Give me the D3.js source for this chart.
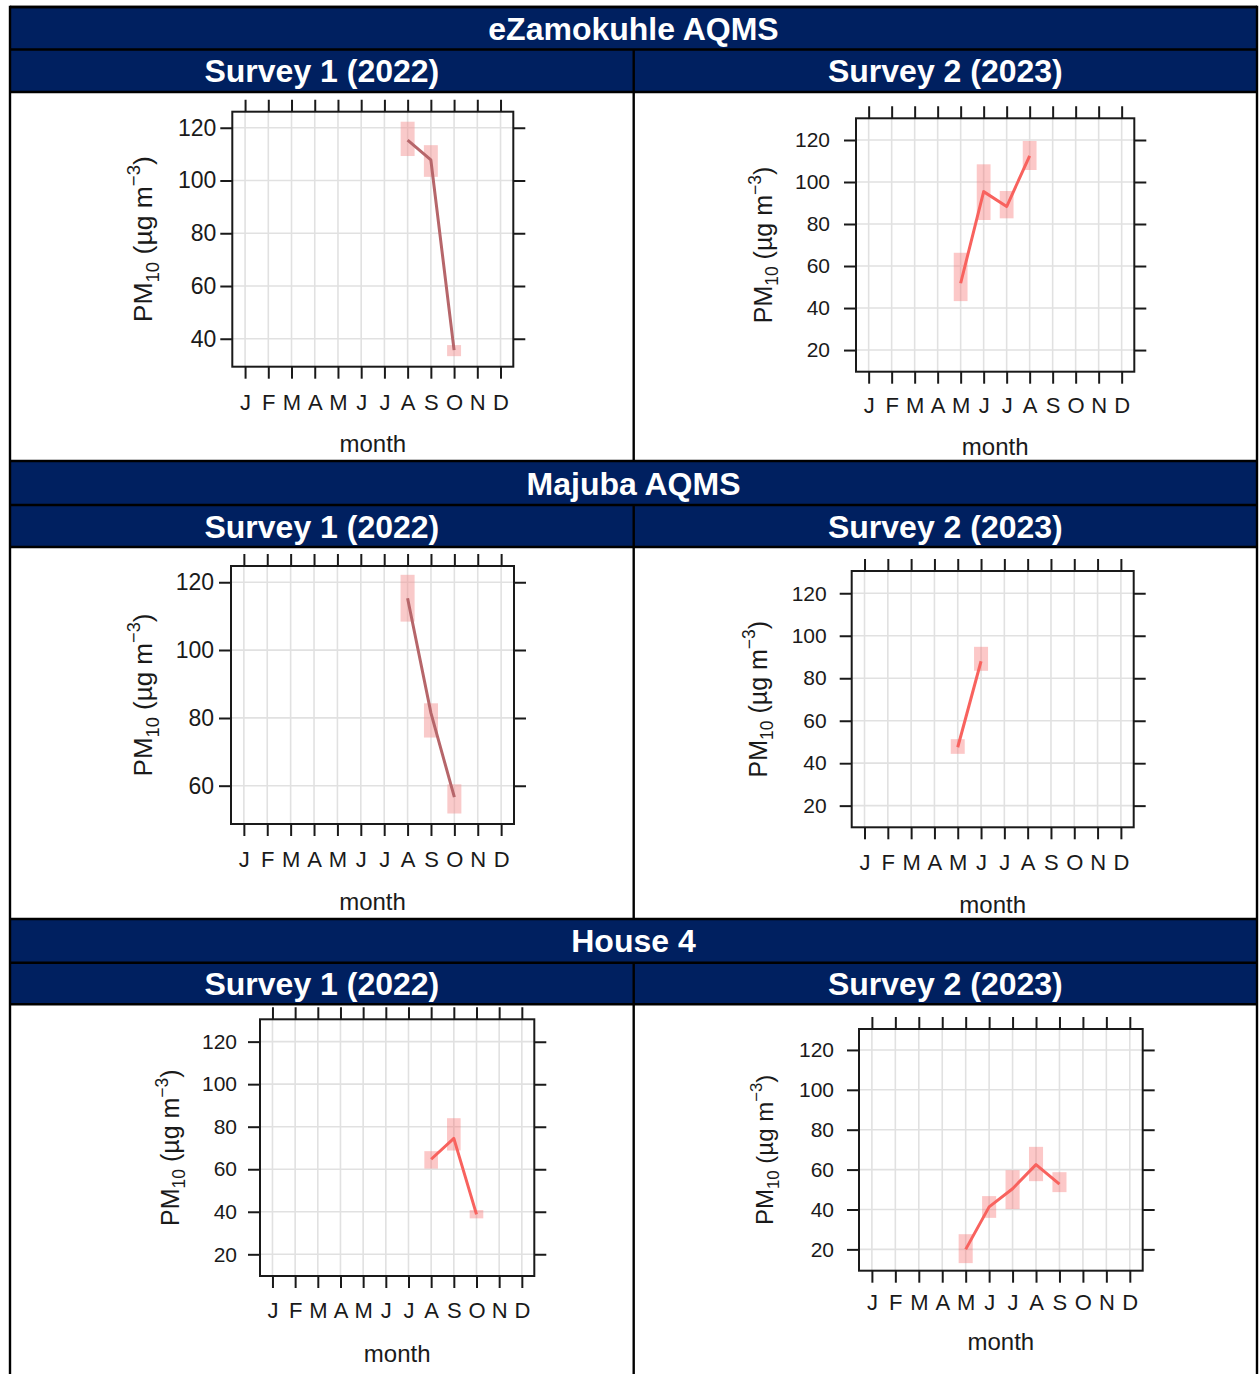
<!DOCTYPE html>
<html>
<head>
<meta charset="utf-8">
<script src="https://cdn.jsdelivr.net/npm/d3@7"></script>
<style>
  body { margin: 0; background: #fff; }
  svg { display: block; font-family: "Liberation Sans", Arial, sans-serif; }
</style>
</head>
<body>
<svg id="chart" width="1259" height="1374"></svg>
<script>
// ---- labels ----
const monthLabels = ["J", "F", "M", "A", "M", "J", "J", "A", "S", "O", "N", "D"];
const stationNames = ["eZamokuhle AQMS", "Majuba AQMS", "House 4"];
const surveyNames = ["Survey 1 (2022)", "Survey 2 (2023)"];

// ---- monthly mean PM10 (µg/m³) with 95% confidence limits ----
// eZamokuhle AQMS, survey 1 (2022)
const ezS1Month = [8, 9, 10];
const ezS1Mean  = [115.3, 107.8, 35.7];
const ezS1Lower = [109.3, 101.4, 33.4];
const ezS1Upper = [122.3, 113.4, 37.6];
const ezS1Ticks = [40, 60, 80, 100, 120];

// eZamokuhle AQMS, survey 2 (2023)
const ezS2Month = [5, 6, 7, 8];
const ezS2Mean  = [51.8, 95.4, 88.3, 112.4];
const ezS2Lower = [43.3, 81.9, 82.7, 105.7];
const ezS2Upper = [66.3, 108.4, 95.7, 119.5];
const ezS2Ticks = [20, 40, 60, 80, 100, 120];

// Majuba AQMS, survey 1 (2022)
const mjS1Month = [8, 9, 10];
const mjS1Mean  = [115.3, 81.4, 56.6];
const mjS1Lower = [108.4, 74.2, 51.8];
const mjS1Upper = [122.2, 84.3, 60.4];
const mjS1Ticks = [60, 80, 100, 120];

// Majuba AQMS, survey 2 (2023)
const mjS2Month = [5, 6];
const mjS2Mean  = [47.5, 88.0];
const mjS2Lower = [44.4, 83.5];
const mjS2Upper = [51.3, 94.8];
const mjS2Ticks = [20, 40, 60, 80, 100, 120];

// House 4, survey 1 (2022)
const h4S1Month = [8, 9, 10];
const h4S1Mean  = [64.7, 74.5, 38.8];
const h4S1Lower = [60.3, 68.8, 36.9];
const h4S1Upper = [68.5, 84.0, 40.8];
const h4S1Ticks = [20, 40, 60, 80, 100, 120];

// House 4, survey 2 (2023)
const h4S2Month = [5, 6, 7, 8, 9];
const h4S2Mean  = [20.0, 41.3, 50.4, 62.5, 52.7];
const h4S2Lower = [13.1, 35.8, 40.2, 54.2, 48.7];
const h4S2Upper = [27.6, 46.7, 59.7, 71.4, 58.7];
const h4S2Ticks = [20, 40, 60, 80, 100, 120];

// y ranges of each plot
const ezS1Range = [29.4, 126.1];
const ezS2Range = [9.7, 130.3];
const mjS1Range = [48.7, 124.8];
const mjS2Range = [9.8, 130.5];
const h4S1Range = [9.8, 130.5];
const h4S2Range = [9.3, 130.5];

const series = [
  { month: ezS1Month, mean: ezS1Mean, lower: ezS1Lower, upper: ezS1Upper, ticks: ezS1Ticks, range: ezS1Range },
  { month: ezS2Month, mean: ezS2Mean, lower: ezS2Lower, upper: ezS2Upper, ticks: ezS2Ticks, range: ezS2Range },
  { month: mjS1Month, mean: mjS1Mean, lower: mjS1Lower, upper: mjS1Upper, ticks: mjS1Ticks, range: mjS1Range },
  { month: mjS2Month, mean: mjS2Mean, lower: mjS2Lower, upper: mjS2Upper, ticks: mjS2Ticks, range: mjS2Range },
  { month: h4S1Month, mean: h4S1Mean, lower: h4S1Lower, upper: h4S1Upper, ticks: h4S1Ticks, range: h4S1Range },
  { month: h4S2Month, mean: h4S2Mean, lower: h4S2Lower, upper: h4S2Upper, ticks: h4S2Ticks, range: h4S2Range }
];

// ---- page layout ----
const navy = "#002060";
const colLeft = 10, colMid = 633.7, colRight = 1257;
// header rows [top, bottom] and cell rows [top, bottom] for each station block
const blocks = [
  { title: [7, 49.5],    survey: [49.5, 92],    cell: [92, 461] },
  { title: [461, 505],   survey: [505, 547],    cell: [547, 919] },
  { title: [919, 962.7], survey: [962.7, 1004.3], cell: [1004.3, 1380] }
];

// plot frames: left, right, top, bottom and text placement
const frames = [
  { L: 232.3, R: 513.3,  T: 111.7, B: 366.7,  xlab: 43,   mon: 85, ylab: 80, tickGap: 4,  yFont: 23, yl: 26.5, line: "#b6666a", box: "rgba(244,150,150,0.5)" },
  { L: 856,   R: 1134.3, T: 118.3, B: 371.7,  xlab: 41.6, mon: 83, ylab: 84, tickGap: 14, yFont: 21, yl: 25, line: "#f8625e", box: "rgba(248,110,110,0.38)" },
  { L: 231,   R: 514,    T: 566,   B: 824,    xlab: 43,   mon: 86, ylab: 79, tickGap: 5,  yFont: 23, yl: 26, line: "#b6666a", box: "rgba(244,150,150,0.5)" },
  { L: 851.7, R: 1133.7, T: 571,   B: 827.3,  xlab: 43,   mon: 86, ylab: 85, tickGap: 13, yFont: 21, yl: 25, line: "#f8625e", box: "rgba(248,110,110,0.38)" },
  { L: 260,   R: 534.3,  T: 1019.3, B: 1276,  xlab: 42,   mon: 86, ylab: 81, tickGap: 11, yFont: 21, yl: 25, line: "#f8625e", box: "rgba(248,110,110,0.38)" },
  { L: 859,   R: 1142.7, T: 1029,  B: 1270.7, xlab: 39,   mon: 79, ylab: 86, tickGap: 13, yFont: 21, yl: 24, line: "#f8625e", box: "rgba(248,110,110,0.38)" }
];

const svg = d3.select("#chart");
const defs = svg.append("defs");
const headFont = 32;

// ---- header bands ----
blocks.forEach((b, bi) => {
  svg.append("rect").attr("x", colLeft).attr("y", b.title[0])
    .attr("width", colRight - colLeft).attr("height", b.survey[1] - b.title[0]).attr("fill", navy);
  svg.append("text").attr("x", (colLeft + colRight) / 2).attr("y", (b.title[0] + b.title[1]) / 2 + 11.5)
    .attr("text-anchor", "middle").attr("fill", "#fff").attr("font-weight", "bold").attr("font-size", headFont)
    .text(stationNames[bi]);
  [[colLeft, colMid], [colMid, colRight]].forEach(([a, c], si) => {
    svg.append("text").attr("x", (a + c) / 2).attr("y", (b.survey[0] + b.survey[1]) / 2 + 11.5)
      .attr("text-anchor", "middle").attr("fill", "#fff").attr("font-weight", "bold").attr("font-size", headFont)
      .text(surveyNames[si]);
  });
});

// ---- plots ----
series.forEach((s, i) => {
  const f = frames[i];
  const b = blocks[Math.floor(i / 2)];
  const cx0 = i % 2 === 0 ? colLeft : colMid;
  const cx1 = i % 2 === 0 ? colMid : colRight;

  defs.append("clipPath").attr("id", "cell" + i).append("rect")
    .attr("x", cx0).attr("y", b.cell[0]).attr("width", cx1 - cx0).attr("height", b.cell[1] - b.cell[0]);

  const g = svg.append("g").attr("clip-path", `url(#cell${i})`);

  const x = d3.scaleLinear().domain([0.45, 12.55]).range([f.L, f.R]);
  const y = d3.scaleLinear().domain(s.range).range([f.B, f.T]);
  const months = d3.range(1, 13);

  // grid
  g.append("g").selectAll("line").data(months).join("line")
    .attr("x1", d => x(d)).attr("x2", d => x(d)).attr("y1", f.T).attr("y2", f.B)
    .attr("stroke", "#e1e1e1").attr("stroke-width", 1.6);
  g.append("g").selectAll("line").data(s.ticks).join("line")
    .attr("x1", f.L).attr("x2", f.R).attr("y1", d => y(d)).attr("y2", d => y(d))
    .attr("stroke", "#e1e1e1").attr("stroke-width", 1.6);

  // confidence interval boxes
  const idx = d3.range(s.month.length);
  g.append("g").selectAll("rect").data(idx).join("rect")
    .attr("x", d => x(s.month[d] - 0.3))
    .attr("width", d => x(s.month[d] + 0.3) - x(s.month[d] - 0.3))
    .attr("y", d => y(s.upper[d]))
    .attr("height", d => y(s.lower[d]) - y(s.upper[d]))
    .attr("fill", f.box);

  // monthly mean line
  const line = d3.line().x(d => x(s.month[d])).y(d => y(s.mean[d]));
  g.append("path").datum(idx).attr("d", line)
    .attr("fill", "none").attr("stroke", f.line).attr("stroke-width", 3).attr("stroke-linejoin", "round");

  // frame
  g.append("rect").attr("x", f.L).attr("y", f.T).attr("width", f.R - f.L).attr("height", f.B - f.T)
    .attr("fill", "none").attr("stroke", "#1a1a1a").attr("stroke-width", 2);

  const styleAxis = (sel, fs) => {
    sel.select(".domain").remove();
    sel.selectAll(".tick line").attr("stroke", "#1a1a1a").attr("stroke-width", 2);
    sel.selectAll(".tick text").attr("fill", "#1a1a1a").attr("font-size", fs)
      .attr("font-family", "Liberation Sans, Arial, sans-serif");
  };

  // month axis
  const xFont = 22;
  g.append("g").attr("transform", `translate(0,${f.B})`)
    .call(d3.axisBottom(x).tickValues(months).tickFormat(m => monthLabels[m - 1])
      .tickSize(12).tickPadding(f.xlab - 12 - 0.71 * xFont))
    .call(a => styleAxis(a, xFont));
  g.append("g").attr("transform", `translate(0,${f.T})`)
    .call(d3.axisTop(x).tickValues(months).tickFormat("").tickSize(12))
    .call(a => styleAxis(a, xFont));

  // PM10 axis
  g.append("g").attr("transform", `translate(${f.L},0)`)
    .call(d3.axisLeft(y).tickValues(s.ticks).tickFormat(d3.format("d")).tickSize(12).tickPadding(f.tickGap))
    .call(a => styleAxis(a, f.yFont));
  g.append("g").attr("transform", `translate(${f.R},0)`)
    .call(d3.axisRight(y).tickValues(s.ticks).tickFormat("").tickSize(12))
    .call(a => styleAxis(a, f.yFont));

  // axis titles
  g.append("text").attr("x", (f.L + f.R) / 2).attr("y", f.B + f.mon)
    .attr("text-anchor", "middle").attr("font-size", 24).attr("fill", "#1a1a1a").text("month");

  const yl = g.append("text")
    .attr("transform", `translate(${f.L - f.ylab},${(f.T + f.B) / 2}) rotate(-90)`)
    .attr("text-anchor", "middle").attr("font-size", f.yl).attr("fill", "#1a1a1a");
  yl.append("tspan").text("PM");
  yl.append("tspan").attr("font-size", f.yl * 0.7).attr("dy", f.yl * 0.25).text("10");
  yl.append("tspan").attr("dy", -f.yl * 0.25).text(" (\u00b5g m");
  yl.append("tspan").attr("font-size", f.yl * 0.7).attr("dy", -f.yl * 0.45).text("\u22123");
  yl.append("tspan").attr("dy", f.yl * 0.45).text(")");
});

// ---- table rules ----
const rules = svg.append("g").attr("stroke", "#000").attr("stroke-width", 2.4);
rules.append("line").attr("x1", colLeft).attr("x2", colLeft).attr("y1", 5.8).attr("y2", 1374);
rules.append("line").attr("x1", colRight).attr("x2", colRight).attr("y1", 5.8).attr("y2", 1374);
rules.append("line").attr("x1", colLeft).attr("x2", colRight).attr("y1", 7).attr("y2", 7);
blocks.forEach(b => {
  [b.title[0], b.title[1], b.survey[1]].forEach(yv => {
    rules.append("line").attr("x1", colLeft).attr("x2", colRight).attr("y1", yv).attr("y2", yv);
  });
  rules.append("line").attr("x1", colMid).attr("x2", colMid).attr("y1", b.survey[0]).attr("y2", Math.min(b.cell[1], 1374));
});
</script>
</body>
</html>
